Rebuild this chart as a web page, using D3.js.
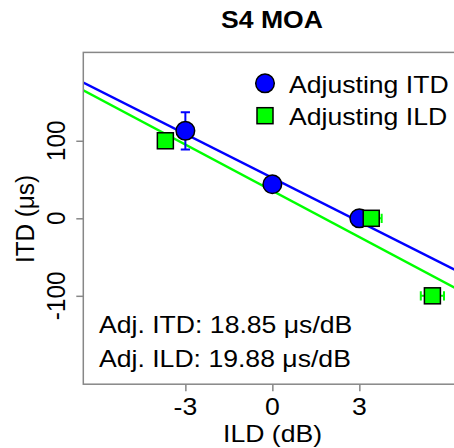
<!DOCTYPE html>
<html>
<head>
<meta charset="utf-8">
<script src="https://cdn.jsdelivr.net/npm/d3@7"></script>
<style>
  html, body { margin: 0; padding: 0; background: #fff; }
  svg { display: block; }
  text { font-family: "Liberation Sans", Arial, Helvetica, sans-serif; fill: #000; }
</style>
</head>
<body>
<svg id="chart" width="454" height="448"></svg>
<script>
// ILD (dB) vs. ITD (us) trading points, subject S4, method of adjustment
const itdIld = [-3, 0, 3];
const itdVal = [112.9, 43.9, 0];
const itdErr = [24, 0, 0];

const ildIld = [-3.69, 3.41, 5.52];
const ildVal = [100, 0, -100];
const ildErr = [0, 0.36, 0.40];

// fitted trading lines: ITD = intercept + slope * ILD
const fitSlopes = [-18.85, -19.88];
const fitIntercepts = [52.3, 35.4];
const fitColors = ["#0000ff", "#00ff00"];

const xTicks = [-3, 0, 3];
const yTicks = [-100, 0, 100];
const legendLabels = ["Adjusting ITD", "Adjusting ILD"];
const noteLabels = ["Adj. ITD: 18.85 \u03bcs/dB", "Adj. ILD: 19.88 \u03bcs/dB"];

const plot = { left: 83.3, right: 461.4, top: 52.4, bottom: 384.2 };
const FS = 24.3, SX = 1.095;
const axisGrey = "#878787";

const svg = d3.select("#chart");
const x = d3.scaleLinear().domain([-6.52, 6.52]).range([plot.left, plot.right]);
const y = d3.scaleLinear().domain([-214, 214]).range([plot.bottom, plot.top]);

// text helper: glyphs slightly widened horizontally
function label(sel, str, tx, ty, opts = {}) {
  const g = sel.append("g")
    .attr("transform", `translate(${tx},${ty}) scale(${SX},1)` + (opts.rotate ? ` rotate(${opts.rotate})` : ""));
  g.append("text")
    .attr("text-anchor", opts.anchor || "start")
    .attr("font-size", opts.size || FS)
    .attr("font-weight", opts.weight || "normal")
    .text(str);
  return g;
}

// clip region for the plot area
svg.append("clipPath").attr("id", "plotClip")
  .append("rect")
  .attr("x", plot.left).attr("y", plot.top)
  .attr("width", plot.right - plot.left).attr("height", plot.bottom - plot.top);

const inner = svg.append("g").attr("clip-path", "url(#plotClip)");

// regression lines
fitSlopes.forEach((s, i) => {
  const b = fitIntercepts[i];
  const [x0, x1] = x.domain();
  inner.append("line")
    .attr("x1", x(x0)).attr("y1", y(b + s * x0))
    .attr("x2", x(x1)).attr("y2", y(b + s * x1))
    .attr("stroke", fitColors[i]).attr("stroke-width", 2.4);
});

// ITD error bars (vertical)
itdIld.forEach((d, i) => {
  if (!itdErr[i]) return;
  const cx = x(d), yt = y(itdVal[i] + itdErr[i]), yb = y(itdVal[i] - itdErr[i]);
  const g = inner.append("g").attr("stroke", fitColors[0]).attr("stroke-width", 2);
  g.append("line").attr("x1", cx).attr("x2", cx).attr("y1", yt).attr("y2", yb);
  g.append("line").attr("x1", cx - 4.6).attr("x2", cx + 4.6).attr("y1", yt).attr("y2", yt);
  g.append("line").attr("x1", cx - 4.6).attr("x2", cx + 4.6).attr("y1", yb).attr("y2", yb);
});

// ILD error bars (horizontal)
ildIld.forEach((d, i) => {
  if (!ildErr[i]) return;
  const cy = y(ildVal[i]), xl = x(d - ildErr[i]), xr = x(d + ildErr[i]);
  const g = inner.append("g").attr("stroke", fitColors[1]).attr("stroke-width", 2);
  g.append("line").attr("x1", xl).attr("x2", xr).attr("y1", cy).attr("y2", cy);
  g.append("line").attr("x1", xl).attr("x2", xl).attr("y1", cy - 4.6).attr("y2", cy + 4.6);
  g.append("line").attr("x1", xr).attr("x2", xr).attr("y1", cy - 4.6).attr("y2", cy + 4.6);
});

// ITD points (circles)
inner.selectAll("circle.itd").data(itdIld).join("circle")
  .attr("class", "itd")
  .attr("cx", d => x(d)).attr("cy", (d, i) => y(itdVal[i]))
  .attr("r", 9.3)
  .attr("fill", "#0000ff").attr("stroke", "#000").attr("stroke-width", 1.5);

// ILD points (squares)
const SQ = 16;
inner.selectAll("rect.ild").data(ildIld).join("rect")
  .attr("class", "ild")
  .attr("x", d => x(d) - SQ / 2).attr("y", (d, i) => y(ildVal[i]) - SQ / 2)
  .attr("width", SQ).attr("height", SQ)
  .attr("fill", "#00ff00").attr("stroke", "#000").attr("stroke-width", 1.5);

// plot frame
svg.append("rect")
  .attr("x", plot.left).attr("y", plot.top)
  .attr("width", plot.right - plot.left).attr("height", plot.bottom - plot.top)
  .attr("fill", "none").attr("stroke", axisGrey).attr("stroke-width", 1.5);

// axes (tick marks via d3, labels drawn with the text helper)
const xAxis = svg.append("g").attr("transform", `translate(0,${plot.bottom})`)
  .call(d3.axisBottom(x).tickValues(xTicks).tickSize(7).tickFormat(""));
const yAxis = svg.append("g").attr("transform", `translate(${plot.left},0)`)
  .call(d3.axisLeft(y).tickValues(yTicks).tickSize(7).tickFormat(""));
[xAxis, yAxis].forEach(a => {
  a.select(".domain").remove();
  a.selectAll(".tick line").attr("stroke", axisGrey).attr("stroke-width", 1.5);
});

xTicks.forEach(t => label(svg, String(t), x(t), 415, { anchor: "middle" }));
yTicks.forEach(t => label(svg, String(t), 65, y(t), { anchor: "middle", rotate: -90 }));

// axis titles
label(svg, "ILD (dB)", 272.5, 441.5, { anchor: "middle" });
label(svg, "ITD (\u03bcs)", 33.5, 219, { anchor: "middle", rotate: -90 });

// chart title
label(svg, "S4 MOA", 272, 28.3, { anchor: "middle", weight: "bold" });

// legend
svg.append("circle").attr("cx", 265).attr("cy", 83.3).attr("r", 9.3)
  .attr("fill", "#0000ff").attr("stroke", "#000").attr("stroke-width", 1.5);
svg.append("rect").attr("x", 265 - 8).attr("y", 115.7 - 8).attr("width", 16).attr("height", 16)
  .attr("fill", "#00ff00").attr("stroke", "#000").attr("stroke-width", 1.5);
label(svg, legendLabels[0], 289, 93.3);
label(svg, legendLabels[1], 289, 125);

// slope annotations
label(svg, noteLabels[0], 99, 333.3);
label(svg, noteLabels[1], 99, 366.7);
</script>
</body>
</html>
